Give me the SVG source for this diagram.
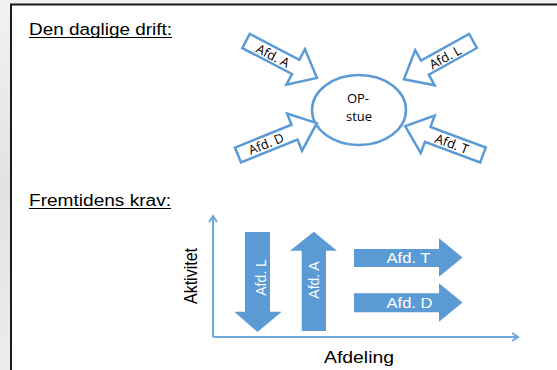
<svg xmlns="http://www.w3.org/2000/svg" width="557" height="370" viewBox="0 0 557 370">
<defs>
<linearGradient id="bg" x1="0" y1="0" x2="0" y2="1">
<stop offset="0" stop-color="#f2f2f2"/><stop offset="0.5" stop-color="#e2e2e2"/><stop offset="1" stop-color="#ececec"/>
</linearGradient>
</defs>
<style>
.head{font-family:"Liberation Sans",Arial,sans-serif;font-size:16px;fill:#000}
.ul{stroke:#000;stroke-width:1.2}
.out{fill:#fff;stroke:#5b9bd5;stroke-width:2.5;stroke-linejoin:miter}
.olbl{font-family:"Open Sans",Lato,sans-serif;font-size:13px;fill:#000;text-anchor:middle}
.blk{fill:#5b9bd5}
.wl{font-family:"Liberation Sans",Arial,sans-serif;font-size:14px;fill:#fff}
.axis{stroke:#6fa8dc;stroke-width:2;fill:none}
.lab{font-family:"Liberation Sans",Arial,sans-serif;font-size:16px;fill:#000}
</style>
<rect x="0" y="0" width="557" height="370" fill="#fff"/>
<rect x="0" y="0" width="11" height="370" fill="url(#bg)"/>
<rect x="0" y="0" width="557" height="4" fill="#f0f0f0"/>
<line x1="10" y1="4.5" x2="557" y2="4.5" stroke="#1a1a1a" stroke-width="2"/>
<line x1="11" y1="4" x2="11" y2="370" stroke="#1a1a1a" stroke-width="2"/>

<g id="heading1">
<text class="head" x="29" y="35" textLength="143" lengthAdjust="spacingAndGlyphs">Den daglige drift:</text>
<line class="ul" x1="29" y1="37.5" x2="172" y2="37.5"/>
</g>
<g id="heading2">
<text class="head" x="29" y="206" textLength="142" lengthAdjust="spacingAndGlyphs">Fremtidens krav:</text>
<line class="ul" x1="29" y1="208.5" x2="171" y2="208.5"/>
</g>

<g id="op-stue">
<ellipse cx="359" cy="110" rx="47" ry="35" fill="#fff" stroke="#5b9bd5" stroke-width="2.5"/>
<text class="olbl" font-size="14.5" x="358" y="103">OP-</text>
<text class="olbl" font-size="14.5" x="359" y="121">stue</text>
</g>

<g id="connectors">
<g id="afdA-top">
<polygon class="out" points="0,-8 56,-8 56,-20 80,0 56,20 56,8 0,8" transform="translate(246,41) rotate(27.5)"/>
<text class="olbl" transform="translate(273,55.5) rotate(27.5)" x="0" y="5">Afd. A</text>
</g>
<g id="afdL-top">
<polygon class="out" points="0,-8 55,-8 55,-20 79,0 55,20 55,8 0,8" transform="translate(473,41) rotate(151)"/>
<text class="olbl" transform="translate(445,57) rotate(-29)" x="0" y="5">Afd. L</text>
</g>
<g id="afdD-top">
<polygon class="out" points="0,-8 61,-8 61,-20 85,0 61,20 61,8 0,8" transform="translate(238,155) rotate(-22)"/>
<text class="olbl" transform="translate(266,143.5) rotate(-22)" x="0" y="5">Afd. D</text>
</g>
<g id="afdT-top">
<polygon class="out" points="0,-8 59,-8 59,-20 83,0 59,20 59,8 0,8" transform="translate(483,155) rotate(200.4)"/>
<text class="olbl" transform="translate(452,143.5) rotate(20.4)" x="0" y="5">Afd. T</text>
</g>

<g id="axes">
<polyline class="axis" points="213,337 213,216"/>
<polyline class="axis" points="209,222 213,216 217,222"/>
<polyline class="axis" points="213,337 518,337"/>
<polyline class="axis" points="512,333 518,337 512,341"/>
</g>
</g>

<g id="afdL-bottom">
<polygon class="blk" points="245,232 270,232 270,311.7 281.7,311.7 257.5,332 234.3,311.7 245,311.7"/>
<text class="wl" transform="translate(266,277.5) rotate(-90)" text-anchor="middle">Afd. L</text>
</g>
<g id="afdA-bottom">
<polygon class="blk" points="301.7,331 326,331 326,250.7 337,250.7 313.8,231.7 290,250.7 301.7,250.7"/>
<text class="wl" transform="translate(318.5,280) rotate(-90)" text-anchor="middle">Afd. A</text>
</g>
<g id="afdT-bottom">
<polygon class="blk" points="354,249 439,249 439,238.3 462.5,257.5 439,276.7 439,267 354,267"/>
<text class="wl" x="386.5" y="263" textLength="44" lengthAdjust="spacingAndGlyphs">Afd. T</text>
</g>
<g id="afdD-bottom">
<polygon class="blk" points="354,293.3 439,293.3 439,283.3 462.5,302.5 439,321.7 439,312.3 354,312.3"/>
<text class="wl" x="386.5" y="307.5" textLength="46" lengthAdjust="spacingAndGlyphs">Afd. D</text>
</g>

<g id="label-aktivitet">
<text class="lab" transform="translate(196.5,276) scale(1.19,1) rotate(-90)" text-anchor="middle">Aktivitet</text>
</g>
<g id="label-afdeling">
<text class="lab" x="324" y="363" textLength="70" lengthAdjust="spacingAndGlyphs">Afdeling</text>
</g>
</svg>
